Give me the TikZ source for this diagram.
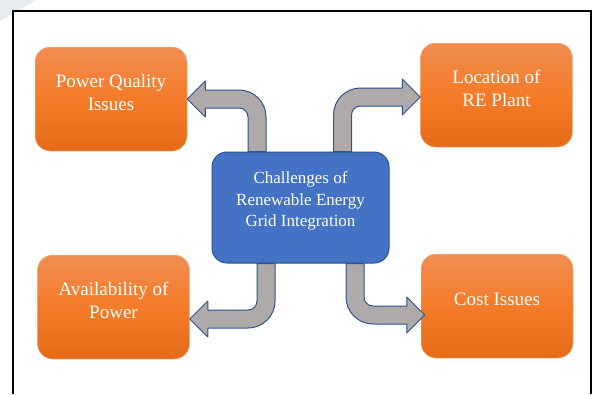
\documentclass[tikz,border=0pt]{standalone}
\usepackage{fontspec}
\setmainfont{Liberation Serif}
\usetikzlibrary{positioning,calc}

\definecolor{issuetop}{HTML}{F08D52}
\definecolor{issuemid}{HTML}{F47B28}
\definecolor{issuebot}{HTML}{E56B18}
\definecolor{hubblue}{HTML}{4472C4}
\definecolor{hubline}{HTML}{2F528F}
\definecolor{shaftgrey}{HTML}{AEAAAA}
\definecolor{wmark}{HTML}{E7ECF1}

\tikzset{
  issue/.style={rectangle,rounded corners=15pt,minimum width=152pt,minimum height=104pt,
    top color=issuetop,bottom color=issuebot,middle color=issuemid,
    draw=issuetop!60!white,line width=0.5pt,text=white,align=center,
    font=\fontsize{19}{23}\selectfont,text depth=14pt},
  hub/.style={rectangle,rounded corners=15pt,minimum width=177pt,minimum height=111pt,
    fill=hubblue,draw=hubline,line width=1pt,text=white,align=center,
    font=\fontsize{17}{21.5}\selectfont,text depth=16pt},
  bent/.style={fill=shaftgrey,draw=hubline,line width=1pt,line join=round}
}

\begin{document}
\begin{tikzpicture}[x=1pt,y=1pt,node distance=190pt,on grid]
  \useasboundingbox (0,0) rectangle (592,-394);
  \fill[wmark] (0,0) -- (36,0) -- (0,-21) -- cycle;
  \draw[line width=2pt] (13,-394) -- (13,-10.5) -- (590.5,-10.5) -- (590.5,-394);

  \node[hub] (hub) at (300.5,-207.5) {Challenges of\\Renewable Energy\\Grid Integration};
  \node[issue] (pq)   [above left=108.5pt and 189.5pt of hub] {Power Quality\\Issues};
  \node[issue] (loc)  [above right=112.5pt and 196pt of hub] {Location of\\RE Plant};
  \node[issue] (avail)[below left=99.5pt and 187pt of hub] {Availability of\\Power};
  \node[issue] (cost) [below right=98.5pt and 196.5pt of hub] {Cost Issues};

  % arrow ends
  \coordinate (s1) at ([xshift=-43.5pt]hub.north);
  \coordinate (s2) at ([xshift=42pt]hub.north);
  \coordinate (s3) at ([xshift=-34.5pt]hub.south);
  \coordinate (s4) at ([xshift=54.5pt]hub.south);
  \coordinate (t1) at (pq.east);
  \coordinate (t2) at ([yshift=-2pt]loc.west);
  \coordinate (t3) at ([yshift=-12pt]avail.east);
  \coordinate (t4) at ([xshift=4pt,yshift=-9pt]cost.west);

  % up and left
  \filldraw[bent] let \p1=(s1), \p2=(t1) in
    (\x1-9pt,\y1) -- (\x1-9pt,\y2-18pt) arc[start angle=0,end angle=90,radius=9pt]
    -- (\x2+18pt,\y2-9pt) -- (\x2+18pt,\y2-18pt) -- (\x2,\y2) -- (\x2+18pt,\y2+18pt)
    -- (\x2+18pt,\y2+9pt) -- (\x1-18pt,\y2+9pt) arc[start angle=90,end angle=0,radius=27pt]
    -- (\x1+9pt,\y1) -- cycle;
  % up and right
  \filldraw[bent] let \p1=(s2), \p2=(t2) in
    (\x1+9pt,\y1) -- (\x1+9pt,\y2-18pt) arc[start angle=180,end angle=90,radius=9pt]
    -- (\x2-18pt,\y2-9pt) -- (\x2-18pt,\y2-18pt) -- (\x2,\y2) -- (\x2-18pt,\y2+18pt)
    -- (\x2-18pt,\y2+9pt) -- (\x1+18pt,\y2+9pt) arc[start angle=90,end angle=180,radius=27pt]
    -- (\x1-9pt,\y1) -- cycle;
  % down and left
  \filldraw[bent] let \p1=(s3), \p2=(t3) in
    (\x1-9pt,\y1) -- (\x1-9pt,\y2+18pt) arc[start angle=0,end angle=-90,radius=9pt]
    -- (\x2+18pt,\y2+9pt) -- (\x2+18pt,\y2+18pt) -- (\x2,\y2) -- (\x2+18pt,\y2-18pt)
    -- (\x2+18pt,\y2-9pt) -- (\x1-18pt,\y2-9pt) arc[start angle=-90,end angle=0,radius=27pt]
    -- (\x1+9pt,\y1) -- cycle;
  % down and right
  \filldraw[bent] let \p1=(s4), \p2=(t4) in
    (\x1+9pt,\y1) -- (\x1+9pt,\y2+18pt) arc[start angle=180,end angle=270,radius=9pt]
    -- (\x2-18pt,\y2+9pt) -- (\x2-18pt,\y2+18pt) -- (\x2,\y2) -- (\x2-18pt,\y2-18pt)
    -- (\x2-18pt,\y2-9pt) -- (\x1+18pt,\y2-9pt) arc[start angle=270,end angle=180,radius=27pt]
    -- (\x1-9pt,\y1) -- cycle;
\end{tikzpicture}
\end{document}
